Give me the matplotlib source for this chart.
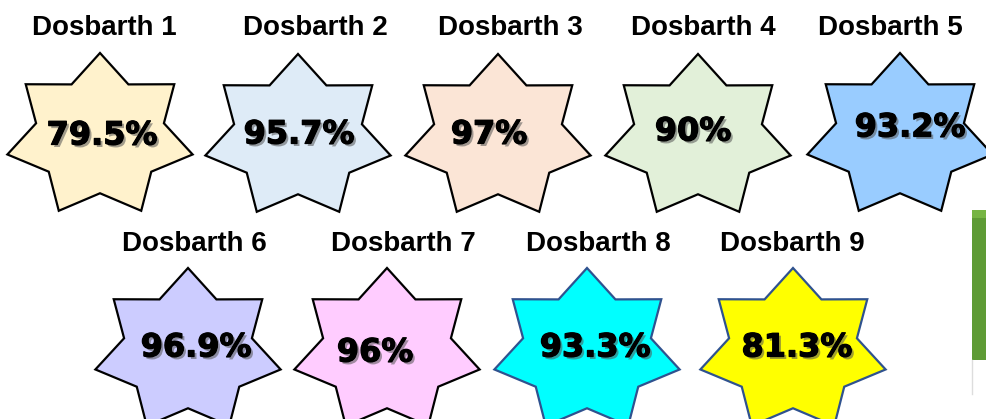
import numpy as np
import matplotlib.pyplot as plt
from matplotlib.patches import Polygon, Rectangle
import matplotlib.patheffects as pe

# Data
labels = ['Dosbarth 1', 'Dosbarth 2', 'Dosbarth 3', 'Dosbarth 4', 'Dosbarth 5',
          'Dosbarth 6', 'Dosbarth 7', 'Dosbarth 8', 'Dosbarth 9']
values = ['79.5%', '95.7%', '97%', '90%', '93.2%', '96.9%', '96%', '93.3%', '81.3%']
fills = ['#FFF2CC', '#DEEBF7', '#FBE5D6', '#E2F0D9', '#99CCFF',
         '#CCCCFF', '#FFCCFF', '#00FFFF', '#FFFF00']
edges = ['black'] * 7 + ['#2F528F', '#2F528F']

# layout (pixel coords, y down)
star_cx = [100, 298, 498, 698, 900, 188, 387, 587, 793]
star_cy = [136, 137, 137, 137, 136, 351, 351, 351, 351]
title_xy = [(104, 28), (315, 28), (510, 28), (703, 28), (890, 28),
            (194, 244), (403, 244), (598, 244), (792, 244)]
value_xy = [(102, 136), (299, 135), (489, 135), (693, 132), (910, 128),
            (196, 348), (375, 353), (595, 348), (797, 348)]

RX, RY, INNER = 95, 83, 0.69


def star(cx, cy):
    pts = []
    for k in range(14):
        a = np.pi * k / 7
        r = 1.0 if k % 2 == 0 else INNER
        pts.append((cx + RX * r * np.sin(a), cy - RY * r * np.cos(a)))
    return pts


fig = plt.figure(figsize=(9.86, 4.19), dpi=100)
ax = fig.add_axes([0, 0, 1, 1])
ax.set_xlim(0, 986)
ax.set_ylim(419, 0)
ax.axis('off')

shadow = [pe.withSimplePatchShadow(offset=(1.8, -1.8), shadow_rgbFace='#555555', alpha=0.55),
          pe.withStroke(linewidth=0.9, foreground='black')]

for i in range(len(labels)):
    ax.add_patch(Polygon(star(star_cx[i], star_cy[i]), closed=True,
                         facecolor=fills[i], edgecolor=edges[i], lw=1.6, zorder=2))
    ax.text(*title_xy[i], labels[i], ha='center', va='center', fontsize=20,
            fontweight='bold', family='Liberation Sans', zorder=3)
    ax.text(*value_xy[i], values[i], ha='center', va='center', fontsize=23,
            fontweight='bold', family='DejaVu Sans', zorder=4, path_effects=shadow)

# green strip at right edge
ax.add_patch(Rectangle((972, 210), 14, 150, facecolor='#5E9B35', edgecolor='none', zorder=1))
ax.add_patch(Rectangle((972, 210), 14, 8, facecolor='#76B543', edgecolor='none', zorder=1))
ax.plot([972, 972], [360, 394], color='#DDDDDD', lw=1, zorder=1)

fig.savefig('out.png', dpi=100)
